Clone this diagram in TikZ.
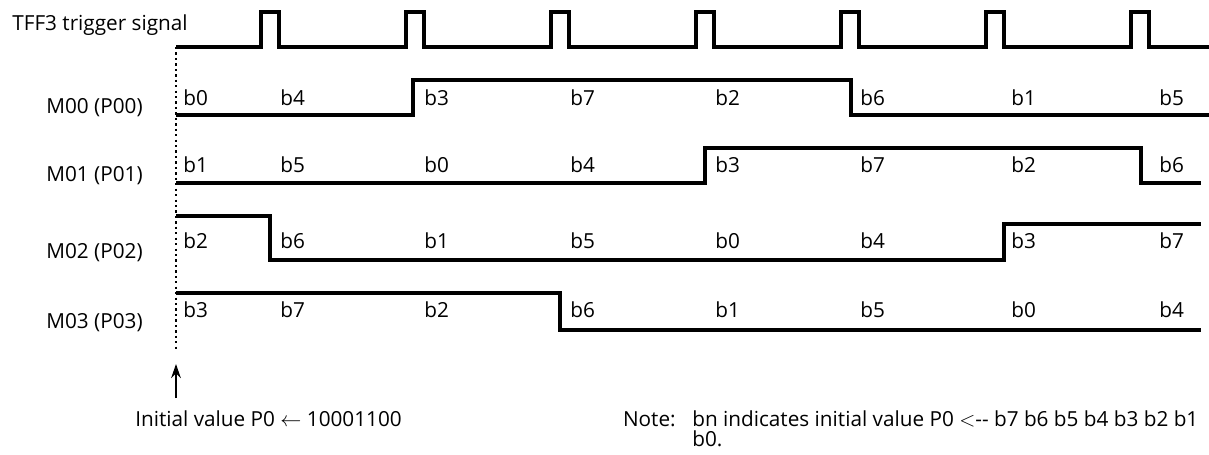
\documentclass[tikz,border=0pt]{standalone}
\usepackage{fontspec}
\setmainfont{Open Sans}
\usetikzlibrary{arrows.meta}

\begin{document}
\begin{tikzpicture}[x=0.02cm, y=-0.02cm, >={Stealth[length=8pt, width=5.5pt]},
  wave/.style={line width=2pt, line join=miter},
  txt/.style={inner sep=0pt, font=\fontsize{11.8}{14}\selectfont},
  bit/.style={txt, anchor=base west},
  sig/.style={txt, anchor=base east}]

\useasboundingbox (0,0) rectangle (1209,454);

% trigger signal
\node[txt, anchor=base west] (trig) at (12,30) {TFF3 trigger signal};
\draw[wave] (176,47) \foreach \c in {270,415,...,1140} { -- (\c-9,47) -- (\c-9,12) -- (\c+9,12) -- (\c+9,47) } -- (1209,47);

% outputs
\node[sig] (m00) at (143,113) {M00 (P00)};
\node[sig] (m01) at (143,181) {M01 (P01)};
\node[sig] (m02) at (143,258) {M02 (P02)};
\node[sig] (m03) at (143,328) {M03 (P03)};

\draw[wave] (176,115) -- (413,115) -- (413,80) -- (851,80) -- (851,115) -- (1209,115);
\draw[wave] (176,183) -- (705,183) -- (705,148) -- (1141,148) -- (1141,183) -- (1201,183);
\draw[wave] (176,216) -- (270,216) -- (270,260) -- (1004,260) -- (1004,224) -- (1201,224);
\draw[wave] (176,293) -- (560,293) -- (560,330) -- (1201,330);

\foreach \x/\b [count=\i] in {183/0,280/4,424/3,570/7,715/2,860/6,1011/1,1159/5}
  \node[bit] (a\i) at (\x,105) {b\b};
\foreach \x/\b [count=\i] in {183/1,280/5,424/0,570/4,715/3,860/7,1011/2,1159/6}
  \node[bit] (b\i) at (\x,172) {b\b};
\foreach \x/\b [count=\i] in {183/2,280/6,424/1,570/5,715/0,860/4,1011/3,1159/7}
  \node[bit] (c\i) at (\x,248) {b\b};
\foreach \x/\b [count=\i] in {183/3,280/7,424/2,570/6,715/1,860/5,1011/0,1159/4}
  \node[bit] (d\i) at (\x,317) {b\b};

% initial value marker
\coordinate (dtop) at (176,47);
\coordinate (dbot) at (176,352);
\draw[line width=1.1pt, dash pattern=on 1.3pt off 1.8pt] (dtop) -- (dbot);
\coordinate (atail) at (176,398);
\coordinate (ahead) at (176,364);
\draw[->, line width=1.1pt] (atail) -- (ahead);
\node[txt, anchor=base west] (init) at (135,426) {Initial value P0 $\leftarrow$ 10001100};

% note
\node[txt, anchor=base west] (note1) at (692,426) {bn indicates initial value P0 $<$-{}- b7 b6 b5 b4 b3 b2 b1};
\node[txt, anchor=base east] (notehead) at (676,426) {Note:};
\node[txt, anchor=base west] (note2) at (692,446) {b0.};
\end{tikzpicture}
\end{document}
